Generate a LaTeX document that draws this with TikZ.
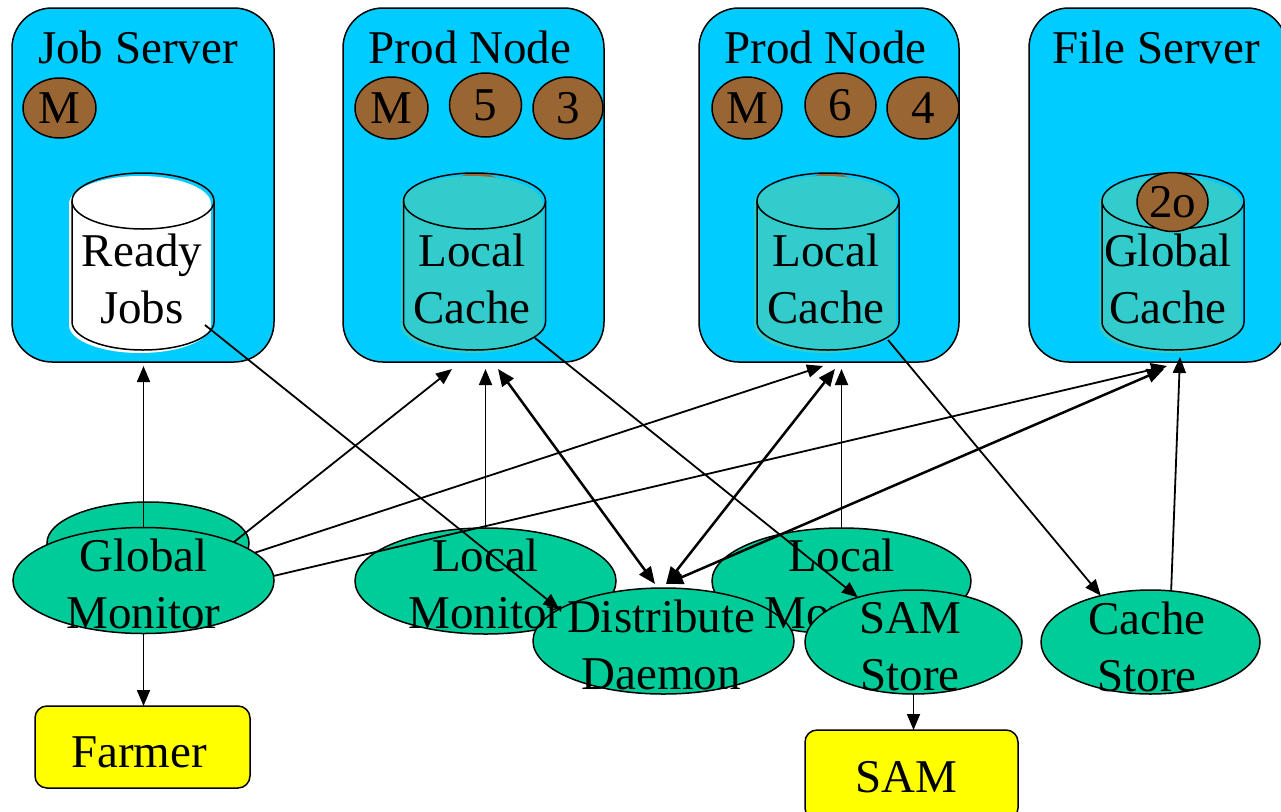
\documentclass[tikz,border=0pt]{standalone}
\usepackage{fontspec}
\setmainfont{Liberation Serif}
\usetikzlibrary{arrows.meta,shapes.geometric}
\definecolor{srvblue}{HTML}{00CCFF}
\definecolor{cachecol}{HTML}{33CCCC}
\definecolor{procbrown}{HTML}{996633}
\definecolor{daemongreen}{HTML}{00CC99}
\definecolor{extyellow}{HTML}{FFFF00}
\newcommand{\drawstore}[2]{%
  \fill[#2] ({#1-74},204) rectangle ({#1+68},325);
  \fill[#2] ({#1-3},204) ellipse [x radius=71pt, y radius=28pt];
  \fill[#2] ({#1-3},325) ellipse [x radius=71pt, y radius=28pt];
  \draw[line width=1.5pt] ({#1-71},201) -- ({#1-71},322) arc[start angle=180, end angle=360, x radius=71pt, y radius=28pt] -- ({#1+71},201);
  \draw[line width=1.5pt] (#1,201) ellipse [x radius=71pt, y radius=28pt];
}
\begin{document}
\begin{tikzpicture}[x=1pt,y=-1pt,
  every node/.style={font=\fontsize{47}{57}\selectfont, inner sep=0pt, outer sep=0pt},
  server/.style={draw, line width=1.5pt, fill=srvblue, rounded corners=40pt, minimum width=262pt, minimum height=354pt},
  proc/.style={draw, line width=1.5pt, fill=procbrown, ellipse, minimum width=72pt, minimum height=62pt},
  daemon/.style={draw, line width=1.5pt, fill=daemongreen, ellipse, minimum width=261pt, minimum height=106pt},
  extbox/.style={draw, line width=1.5pt, fill=extyellow, rounded corners=12pt, minimum width=215pt, minimum height=82pt},
  conn/.style={line width=1.8pt, -{Triangle[length=16pt,width=13pt]}},
  bidir/.style={line width=2.5pt, {Triangle[length=17pt,width=14pt]}-{Triangle[length=17pt,width=14pt]}},
  multi/.style={align=center}
]
\clip (0,0) rectangle (1281,811);
% servers
\node[server] (js) at (143,185) {};
\node[server, minimum width=261pt] (p1) at (473.5,185) {};
\node[server, minimum width=260pt] (p2) at (829,185) {};
\node[server, minimum width=258pt] (fs) at (1158,185) {};
\node[anchor=base] (jst) at (138,63) {Job Server};
\node[anchor=base] (p1t) at (470,63) {Prod Node};
\node[anchor=base] (p2t) at (825.5,63) {Prod Node};
\node[anchor=base] (fst) at (1156,63) {File Server};
% hidden processes behind caches
\node[proc, draw=none] (p1hid) at (477,204) {};
\node[proc, draw=none] (p2hid) at (830,204) {};
% caches
\drawstore{143}{white}
\drawstore{474.5}{cachecol}
\drawstore{828}{cachecol}
\drawstore{1173}{cachecol}
\node[multi] (rj) at (142,279) {Ready\\Jobs};
\node[multi] (lc1) at (472,279) {Local\\Cache};
\node[multi] (lc2) at (826,279) {Local\\Cache};
\node[multi] (gc) at (1168,279) {Global\\Cache};
\coordinate (rjout) at (205,325);
\coordinate (lc1out) at (535,338);
\coordinate (lc2out) at (888,340);
\node[proc, minimum width=71pt, minimum height=59pt] (fs2o) at (1172.5,202) {2o};
% processes
\node[proc, minimum width=73pt, minimum height=60pt] (jsM) at (59.5,108) {M};
\node[proc, minimum width=73pt] (p1M) at (391.5,108) {M};
\node[proc, minimum height=64pt] (p1five) at (485.5,105) {5};
\node[proc, minimum width=70pt] (p1three) at (568,108) {3};
\node[proc, minimum width=70pt] (p2M) at (747,108) {M};
\node[proc, minimum width=71pt, minimum height=64pt] (p2six) at (840.5,105) {6};
\node[proc] (p2four) at (923,108) {4};
% daemons
\node[daemon, minimum width=202pt, minimum height=82pt] (gmb) at (148,543) {};
\node[daemon] (gm) at (143.5,580.5) {};
\node[daemon] (lm1) at (485.5,581) {};
\node[daemon, minimum width=259pt] (lm2) at (841.5,581) {};
\node[daemon] (dd) at (663.5,641) {};
% arrow end points
\coordinate (jsin) at (143.5,366);
\coordinate (p1a) at (452,369);
\coordinate (p1b) at (485.5,369);
\coordinate (p1c) at (498,369);
\coordinate (p2a) at (823,366);
\coordinate (p2b) at (835,369);
\coordinate (p2c) at (841.5,369);
\coordinate (fsa) at (1167,366);
\coordinate (fsb) at (1164,369);
\coordinate (fsc) at (1180,357);
\coordinate (ddin1) at (655,584);
\coordinate (ddin2) at (666,584);
% daemon labels (lower layer)
\node[multi] (gmtext) at (143.5,584) {Global\\Monitor};
\node[multi] (lm1text) at (485.5,584) {Local\\Monitor};
\node[multi] (lm2text) at (841.5,584) {Local\\Monitor};
\node[daemon, minimum width=217pt, minimum height=104pt] (samstore) at (913.5,642) {};
\node[daemon, minimum width=219pt, minimum height=104pt] (cachestore) at (1150.5,642) {};
% connectors
\draw[conn] (gm.north) -- (jsin);
\draw[conn] (gm.23) -- (p1a);
\draw[conn] (gm.14) -- (p2a);
\draw[conn] (gm.2) -- (fsa);
\draw[conn] (lm1.north) -- (p1b);
\draw[conn] (lm2.north) -- (p2c);
\draw[bidir] (p1c) -- (ddin1);
\draw[bidir] (p2b) -- (ddin2);
\draw[bidir] (fsb) -- (ddin2);
\draw[conn] (rjout) -- (dd.163);
\draw[conn] (lc1out) -- (samstore);
\draw[conn] (lc2out) -- (cachestore.137);
\draw[conn] (cachestore.68) -- (fsc);
% upper labels
\node[multi] (ddtext) at (661,645) {Distribute\\Daemon};
\node[multi] (sstext) at (910,647) {SAM\\Store};
\node[multi] (cstext) at (1147,647) {Cache\\Store};
% external boxes
\node[extbox] (farmer) at (142.5,747) {};
\node (farmertext) at (139,752) {Farmer};
\node[extbox, minimum width=213pt, minimum height=90pt] (sam) at (911.5,775) {};
\node (samtext) at (906,777) {SAM};
\draw[conn] (gm.south) -- (gm.south |- farmer.north);
\draw[conn] (samstore.south) -- (samstore.south |- sam.north);
\end{tikzpicture}
\end{document}
